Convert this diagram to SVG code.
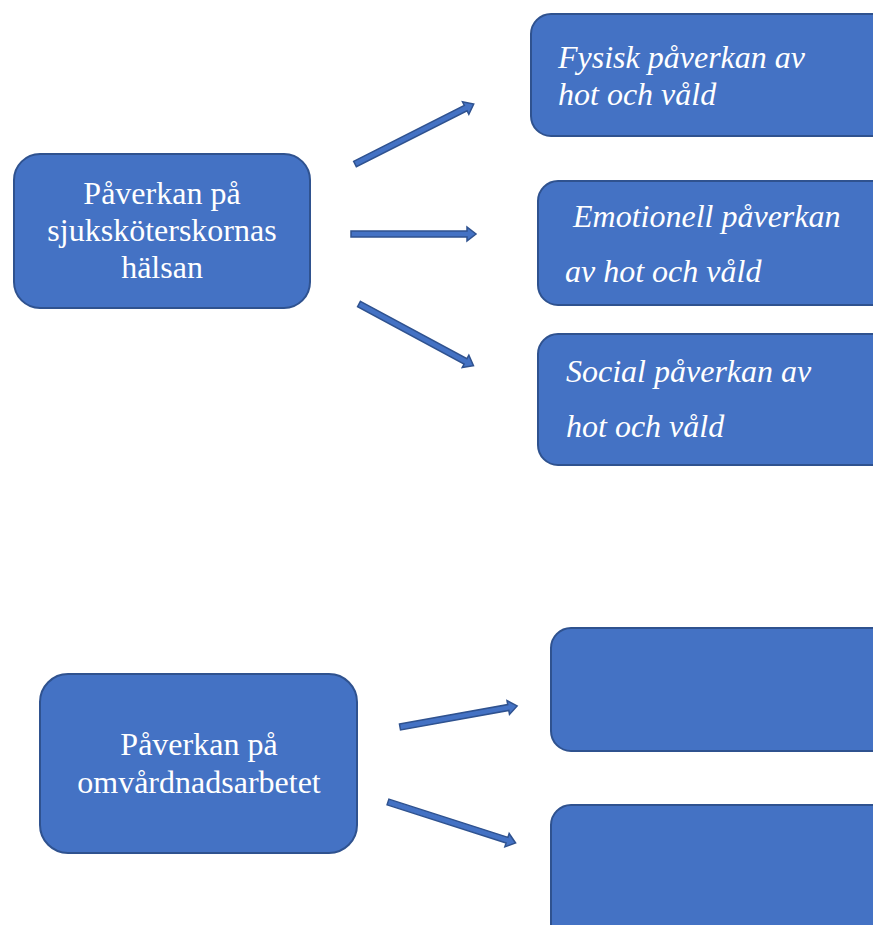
<svg xmlns="http://www.w3.org/2000/svg" width="873" height="925" viewBox="0 0 873 925">
<style>
.box{fill:#4472C4;stroke:#2F528F;stroke-width:2}
.t{font-family:"Liberation Serif","Times New Roman",serif;font-size:32px;fill:#ffffff}
.c{text-anchor:middle}
.i{font-style:italic}
.arr{fill:#4472C4;stroke:#2F528F;stroke-width:1.5}
</style>
<rect width="873" height="925" fill="#ffffff"/>
<g id="n1"><rect class="box" x="14" y="154" width="296" height="154" rx="26"/>
<text class="t c" x="162" y="204">Påverkan på</text>
<text class="t c" x="162" y="241">sjuksköterskornas</text>
<text class="t c" x="162" y="278">hälsan</text></g>
<g id="n2"><rect class="box" x="531" y="14" width="360" height="122" rx="20"/>
<text class="t i" x="558" y="68">Fysisk påverkan av</text>
<text class="t i" x="558" y="105">hot och våld</text></g>
<g id="n3"><rect class="box" x="538" y="181" width="360" height="124" rx="20"/>
<text class="t i" x="573" y="227">Emotionell påverkan</text>
<text class="t i" x="565" y="282">av hot och våld</text></g>
<g id="n4"><rect class="box" x="538" y="334" width="360" height="131" rx="20"/>
<text class="t i" x="566" y="382">Social påverkan av</text>
<text class="t i" x="566" y="437">hot och våld</text></g>
<g id="n5"><rect class="box" x="40" y="674" width="317" height="179" rx="28"/>
<text class="t c" x="199" y="755">Påverkan på</text>
<text class="t c" x="199" y="793">omvårdnadsarbetet</text></g>
<g id="n6"><rect class="box" x="551" y="628" width="345" height="123" rx="20"/></g>
<g id="n7"><rect class="box" x="551" y="805" width="345" height="140" rx="20"/></g>
<g id="connectors">
<path class="arr" transform="translate(355,164) rotate(-26.8)" d="M0,-3 H124 V-7 L133,0 L124,7 V3 H0 Z"/>
<path class="arr" transform="translate(351,234)" d="M0,-3 H116 V-7 L125,0 L116,7 V3 H0 Z"/>
<path class="arr" transform="translate(359,304) rotate(28.3)" d="M0,-3 H121 V-7 L130,0 L121,7 V3 H0 Z"/>
<path class="arr" transform="translate(400,727) rotate(-10.2)" d="M0,-3 H110 V-7 L119,0 L110,7 V3 H0 Z"/>
<path class="arr" transform="translate(388,802) rotate(17.8)" d="M0,-3 H125 V-7 L134,0 L125,7 V3 H0 Z"/>
</g>
</svg>
